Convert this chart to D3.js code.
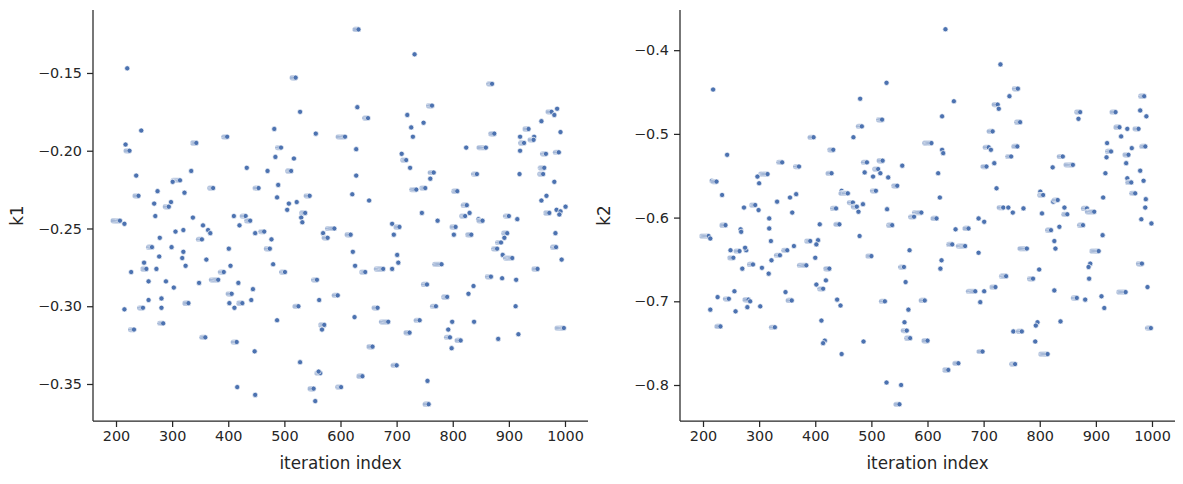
<!DOCTYPE html>
<html>
<head>
<meta charset="utf-8">
<script src="https://cdn.jsdelivr.net/npm/d3@7"></script>
<style>
  body { margin: 0; background: #fff; }
  text { font-family: "DejaVu Sans", sans-serif; fill: #262626; }
</style>
</head>
<body>
<script>
// MCMC trace points: iteration, value, run (1 single, 2 short hold, 3 long hold)
const k1Iter = [220,245,217,224,398,343,236,334,433,314,301,274,322,240,373,454,268,298,294,270,337,410,431,439,207,215,355,364,368,420,306,320,448,278,353,264,299,277,320,318,361,401,250,254,227,272,324,404,392,382,258,289,303,348,418,444,406,258,281,281,248,215,329,402,411,425,441,232,284,359,415,447,416,448,
  632,732,520,528,630,649,719,726,729,482,556,608,494,484,517,628,709,717,724,470,512,628,489,733,487,545,621,651,508,522,505,537,530,532,692,705,464,589,569,577,618,695,477,474,622,701,480,626,703,692,676,644,501,558,562,595,525,666,625,685,487,571,567,723,657,700,528,564,561,639,601,552,555,
  870,763,748,986,976,981,958,874,935,920,945,944,927,992,920,824,859,966,989,766,843,919,956,963,961,981,760,751,735,808,967,958,1001,985,992,990,972,825,830,822,745,773,846,853,900,915,805,802,833,897,886,892,879,889,906,983,984,994,780,951,868,888,913,754,837,828,790,770,912,741,799,838,792,795,814,917,881,998,798,755,757];
const k1Val = [-0.147,-0.187,-0.196,-0.200,-0.191,-0.195,-0.216,-0.213,-0.211,-0.219,-0.220,-0.226,-0.227,-0.229,-0.224,-0.224,-0.234,-0.233,-0.236,-0.242,-0.243,-0.242,-0.242,-0.245,-0.245,-0.247,-0.248,-0.251,-0.253,-0.248,-0.252,-0.251,-0.253,-0.256,-0.257,-0.262,-0.262,-0.268,-0.265,-0.269,-0.270,-0.263,-0.272,-0.276,-0.278,-0.276,-0.274,-0.274,-0.278,-0.283,-0.284,-0.284,-0.288,-0.285,-0.285,-0.289,-0.292,-0.296,-0.295,-0.301,-0.301,-0.302,-0.298,-0.298,-0.301,-0.298,-0.296,-0.315,-0.311,-0.320,-0.323,-0.329,-0.352,-0.357,
  -0.122,-0.138,-0.153,-0.175,-0.172,-0.179,-0.177,-0.185,-0.191,-0.186,-0.189,-0.191,-0.198,-0.204,-0.205,-0.199,-0.202,-0.206,-0.211,-0.213,-0.213,-0.216,-0.222,-0.225,-0.230,-0.229,-0.228,-0.232,-0.234,-0.233,-0.238,-0.240,-0.243,-0.246,-0.247,-0.249,-0.252,-0.250,-0.253,-0.256,-0.254,-0.254,-0.257,-0.263,-0.265,-0.267,-0.273,-0.274,-0.272,-0.276,-0.276,-0.278,-0.278,-0.283,-0.296,-0.293,-0.300,-0.301,-0.307,-0.310,-0.309,-0.312,-0.315,-0.317,-0.326,-0.338,-0.336,-0.343,-0.342,-0.345,-0.352,-0.353,-0.361,
  -0.157,-0.171,-0.182,-0.173,-0.175,-0.177,-0.181,-0.189,-0.186,-0.191,-0.191,-0.193,-0.195,-0.188,-0.200,-0.198,-0.198,-0.202,-0.201,-0.214,-0.215,-0.215,-0.211,-0.211,-0.215,-0.220,-0.218,-0.224,-0.225,-0.226,-0.229,-0.232,-0.236,-0.238,-0.239,-0.241,-0.240,-0.235,-0.240,-0.242,-0.240,-0.245,-0.244,-0.245,-0.242,-0.244,-0.249,-0.254,-0.254,-0.253,-0.259,-0.256,-0.263,-0.267,-0.269,-0.253,-0.262,-0.270,-0.273,-0.276,-0.281,-0.282,-0.283,-0.286,-0.287,-0.292,-0.294,-0.300,-0.300,-0.309,-0.310,-0.310,-0.315,-0.320,-0.322,-0.318,-0.321,-0.314,-0.327,-0.348,-0.363];
const k1Run = [1,1,1,2,2,2,1,1,1,3,1,1,1,2,2,2,1,1,2,1,1,1,2,2,3,1,1,1,1,1,1,1,1,1,2,2,1,1,1,1,1,1,1,2,1,1,1,1,2,3,1,1,1,1,1,1,2,1,1,1,2,1,2,1,1,2,1,2,2,2,2,1,1,1,
  2,1,2,1,1,2,1,1,1,1,1,3,2,1,1,1,1,2,1,1,2,1,1,2,1,2,1,1,1,1,1,2,1,1,1,2,2,3,1,2,2,1,1,2,1,1,1,1,1,1,3,2,2,2,1,2,2,2,1,3,1,2,1,2,2,2,1,2,1,2,2,2,1,
  2,2,1,1,2,1,1,2,2,1,1,2,2,1,1,1,3,2,2,2,2,1,1,2,2,1,1,2,1,2,1,1,1,1,1,1,2,2,1,2,1,1,1,2,2,1,2,1,2,2,2,1,2,1,3,1,2,1,3,2,2,1,1,2,1,1,2,2,1,2,1,1,1,2,2,1,1,3,1,1,2];

const k2Iter = [218,243,397,432,341,371,429,315,297,300,216,224,234,447,452,366,355,332,273,293,299,359,437,318,318,408,443,240,267,268,210,213,321,391,405,402,362,350,337,249,265,277,275,254,400,322,289,305,270,317,384,425,419,402,414,256,226,246,281,284,279,302,258,213,347,358,439,445,231,328,411,417,414,447,
  632,730,527,480,647,725,727,626,519,483,468,716,607,709,713,626,628,492,520,555,719,705,488,512,516,503,530,619,546,508,458,723,622,467,485,474,477,528,589,576,616,734,691,701,537,650,673,479,644,667,691,568,500,625,623,558,561,738,721,701,685,694,524,595,566,559,563,569,600,486,698,655,637,527,553,550,
  761,746,986,872,869,935,979,990,765,942,956,976,945,760,749,920,927,919,964,958,988,954,979,956,963,985,823,841,859,917,970,989,988,981,999,801,806,824,832,913,844,849,884,897,735,744,752,771,804,835,820,877,826,828,912,905,777,799,788,740,890,887,888,982,992,826,866,881,910,915,953,796,793,837,753,768,792,814,756,998];
const k2Val = [-0.447,-0.525,-0.504,-0.519,-0.534,-0.539,-0.547,-0.548,-0.551,-0.559,-0.556,-0.557,-0.573,-0.568,-0.571,-0.572,-0.576,-0.581,-0.588,-0.585,-0.591,-0.594,-0.589,-0.601,-0.613,-0.608,-0.608,-0.609,-0.614,-0.617,-0.622,-0.625,-0.628,-0.628,-0.627,-0.632,-0.634,-0.639,-0.645,-0.639,-0.640,-0.639,-0.636,-0.648,-0.648,-0.651,-0.656,-0.660,-0.661,-0.667,-0.657,-0.661,-0.675,-0.680,-0.685,-0.688,-0.695,-0.697,-0.698,-0.700,-0.707,-0.706,-0.712,-0.710,-0.689,-0.699,-0.698,-0.705,-0.730,-0.731,-0.723,-0.747,-0.750,-0.763,
  -0.375,-0.417,-0.439,-0.458,-0.461,-0.465,-0.470,-0.479,-0.483,-0.491,-0.504,-0.497,-0.511,-0.516,-0.519,-0.519,-0.523,-0.534,-0.532,-0.538,-0.535,-0.539,-0.546,-0.542,-0.547,-0.551,-0.552,-0.547,-0.562,-0.568,-0.571,-0.565,-0.576,-0.582,-0.584,-0.587,-0.593,-0.590,-0.594,-0.599,-0.601,-0.588,-0.601,-0.605,-0.609,-0.614,-0.613,-0.622,-0.632,-0.634,-0.642,-0.639,-0.646,-0.651,-0.661,-0.659,-0.677,-0.670,-0.683,-0.688,-0.688,-0.701,-0.700,-0.699,-0.710,-0.725,-0.735,-0.744,-0.747,-0.748,-0.760,-0.774,-0.782,-0.797,-0.800,-0.823,
  -0.446,-0.455,-0.455,-0.474,-0.482,-0.474,-0.472,-0.479,-0.486,-0.492,-0.494,-0.494,-0.503,-0.515,-0.527,-0.511,-0.521,-0.528,-0.517,-0.525,-0.515,-0.535,-0.544,-0.553,-0.558,-0.556,-0.540,-0.527,-0.537,-0.547,-0.571,-0.578,-0.588,-0.602,-0.607,-0.569,-0.573,-0.581,-0.579,-0.576,-0.588,-0.596,-0.589,-0.593,-0.588,-0.588,-0.594,-0.589,-0.595,-0.611,-0.615,-0.609,-0.628,-0.637,-0.621,-0.640,-0.637,-0.662,-0.673,-0.670,-0.655,-0.659,-0.673,-0.655,-0.683,-0.687,-0.696,-0.698,-0.694,-0.708,-0.689,-0.725,-0.729,-0.724,-0.736,-0.736,-0.748,-0.763,-0.775,-0.732];
const k2Run = [1,1,2,2,2,2,2,3,1,1,1,2,1,1,2,1,1,1,1,2,1,1,2,1,1,1,2,2,1,1,3,1,1,2,1,1,1,2,2,1,2,1,1,2,1,1,2,1,1,1,3,2,1,1,2,1,1,2,2,1,1,1,1,1,1,2,1,1,2,2,1,1,1,1,
  1,1,1,1,1,2,1,1,2,2,1,2,3,2,1,1,1,2,2,1,1,2,1,2,1,1,1,1,2,2,2,1,1,2,1,2,1,1,3,2,2,2,1,1,2,1,2,1,2,3,1,1,2,1,1,2,1,2,2,1,3,1,2,2,1,1,2,2,2,1,2,2,2,1,1,2,
  2,1,2,2,1,2,1,1,2,2,1,2,1,2,2,1,2,1,1,2,2,1,1,1,2,1,1,2,3,1,2,1,1,1,1,1,2,1,2,1,1,2,2,3,1,1,1,1,1,1,2,2,1,1,1,3,3,1,2,2,1,1,1,2,1,1,2,1,1,1,3,1,1,1,1,2,1,3,2,2];

const xTicks = [200,300,400,500,600,700,800,900,1000];
const k1Ticks = [-0.35,-0.30,-0.25,-0.20,-0.15];
const k2Ticks = [-0.8,-0.7,-0.6,-0.5,-0.4];

const W = 1183, H = 484;
const svg = d3.select("body").append("svg").attr("width", W).attr("height", H);
const fmtMinus = s => s.replace("-", "\u2212");

function panel(left, right, iter, vals, runs, yDomain, yTicks, yFmt, label) {
  const top = 10, bottom = 421;
  const x = d3.scaleLinear().domain([159, 1041]).range([left, right]);
  const y = d3.scaleLinear().domain(yDomain).range([bottom, top]);
  const g = svg.append("g");

  // expand held states into their repeated iterations
  const pts = [];
  iter.forEach((it, i) => {
    const extra = runs[i] === 1 ? 0 : runs[i] === 2 ? 3 : 6;
    for (let k = extra; k >= 0; k--) pts.push({it: it - k * 2, v: vals[i]});
  });
  g.selectAll("circle").data(pts).enter().append("circle")
    .attr("cx", d => x(d.it)).attr("cy", d => y(d.v)).attr("r", 2.6)
    .attr("fill", "#4c72b0").attr("stroke", "#fff").attr("stroke-width", 0.7);

  const xa = g.append("g").attr("transform", `translate(0,${bottom})`)
    .call(d3.axisBottom(x).tickValues(xTicks).tickSize(6).tickPadding(4).tickFormat(d3.format("d")));
  const ya = g.append("g").attr("transform", `translate(${left},0)`)
    .call(d3.axisLeft(y).tickValues(yTicks).tickSize(6).tickPadding(5).tickFormat(d => fmtMinus(d3.format(yFmt)(d))));
  [xa, ya].forEach(a => {
    a.selectAll("path, line").attr("stroke", "#262626").attr("stroke-width", 1.25);
    a.selectAll("text").style("font-size", "14.4px").attr("fill", "#262626");
  });
  xa.select(".domain").attr("d", `M${left},0H${right}`);
  ya.select(".domain").attr("d", `M0,${top}V${bottom}`);

  g.append("text").attr("x", (left + right) / 2).attr("y", 469).attr("text-anchor", "middle")
    .style("font-size", "16.8px").text("iteration index");
  g.append("text").attr("transform", `translate(${left - 70},${(top + bottom) / 2}) rotate(-90)`)
    .attr("text-anchor", "middle").style("font-size", "16.8px").text(label);
}

panel(93, 588, k1Iter, k1Val, k1Run, [-0.3738, -0.1095], k1Ticks, ".2f", "k1");
panel(680, 1175, k2Iter, k2Val, k2Run, [-0.843, -0.352], k2Ticks, ".1f", "k2");
</script>
</body>
</html>
